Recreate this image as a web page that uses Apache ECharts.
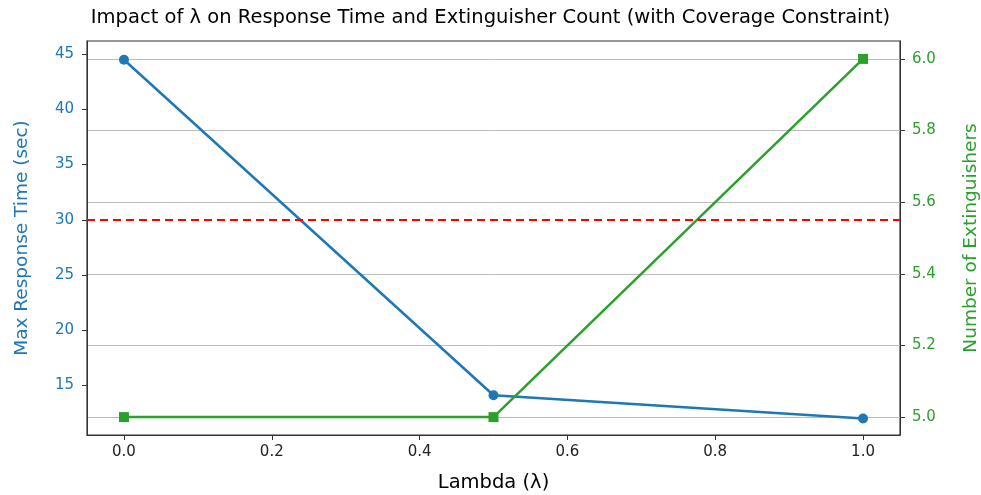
<!DOCTYPE html>
<html><head><meta charset="utf-8">
<script src="https://cdn.jsdelivr.net/npm/echarts@6/dist/echarts.min.js"></script>
<style>html,body{margin:0;padding:0;background:#fff}#c{width:981px;height:495px}</style>
</head><body><div id="c"></div>
<script>
const lambdas = [0.0, 0.5, 1.0];
const maxResponse = [44.5, 14.1, 12.0];
const extinguishers = [5, 5, 6];
const threshold = 30;
const xTicks = [0.0, 0.2, 0.4, 0.6, 0.8, 1.0];
const leftTicks = [15, 20, 25, 30, 35, 40, 45];
const rightTicks = [5.0, 5.2, 5.4, 5.6, 5.8, 6.0];

const blue = '#1f77b4', green = '#2ca02c';
const font = 'DejaVu Sans';
const chart = echarts.init(document.getElementById('c'));
chart.setOption({
  animation: false,
  title: {text: 'Impact of λ on Response Time and Extinguisher Count (with Coverage Constraint)', left: 'center', top: 3,
    textStyle: {fontFamily: font, fontSize: 19.5, fontWeight: 'normal', color: '#000'}},
  grid: {left: 87, right: 81, top: 41, bottom: 60, outerBoundsMode: 'none', containLabel: false,
    show: true, borderColor: '#333', borderWidth: 1.2, backgroundColor: 'transparent'},
  xAxis: {type: 'value', min: -0.05, max: 1.05,
    name: 'Lambda (λ)', nameLocation: 'middle', nameGap: 38,
    nameTextStyle: {fontFamily: font, fontSize: 19.5, color: '#000'},
    axisLine: {show: true, onZero: false, lineStyle: {color: '#333'}},
    axisTick: {show: true, inside: false, length: 5, customValues: xTicks, lineStyle: {color: '#333'}},
    axisLabel: {customValues: xTicks, formatter: v => v.toFixed(1), fontFamily: font, fontSize: 15, color: '#222', margin: 10},
    splitLine: {show: false}},
  yAxis: [
    {type: 'value', min: 10.5, max: 46.2, position: 'left',
     name: 'Max Response Time (sec)', nameLocation: 'middle', nameGap: 55,
     nameTextStyle: {fontFamily: font, fontSize: 18.5, color: blue},
     axisLine: {show: true, onZero: false, lineStyle: {color: '#333'}},
     axisTick: {show: true, length: 5, customValues: leftTicks, lineStyle: {color: '#333'}},
     axisLabel: {customValues: leftTicks, fontFamily: font, fontSize: 15, color: blue, margin: 13},
     splitLine: {show: false}},
    {type: 'value', min: 4.95, max: 6.05, position: 'right',
     name: 'Number of Extinguishers', nameLocation: 'middle', nameGap: 62, nameRotate: 90,
     nameTextStyle: {fontFamily: font, fontSize: 18.5, color: green},
     axisLine: {show: true, onZero: false, lineStyle: {color: '#333'}},
     axisTick: {show: true, length: 5, customValues: rightTicks, lineStyle: {color: '#333'}},
     axisLabel: {customValues: rightTicks, formatter: v => v.toFixed(1), fontFamily: font, fontSize: 15, color: green, margin: 12},
     splitLine: {show: true, customValues: rightTicks, lineStyle: {color: '#bbb', width: 1}}}
  ],
  series: [
    {type: 'line', yAxisIndex: 0, data: lambdas.map((x, i) => [x, maxResponse[i]]),
     symbol: 'circle', symbolSize: 10, showAllSymbol: true,
     lineStyle: {color: blue, width: 2.5}, itemStyle: {color: blue},
     markLine: {silent: true, symbol: ['none', 'none'], label: {show: false},
       lineStyle: {color: '#ff0000', type: [8, 5], width: 2},
       data: [{yAxis: threshold}]}},
    {type: 'line', yAxisIndex: 1, data: lambdas.map((x, i) => [x, extinguishers[i]]),
     symbol: 'rect', symbolSize: 10, showAllSymbol: true,
     lineStyle: {color: green, width: 2.5}, itemStyle: {color: green}}
  ]
});
</script></body></html>
